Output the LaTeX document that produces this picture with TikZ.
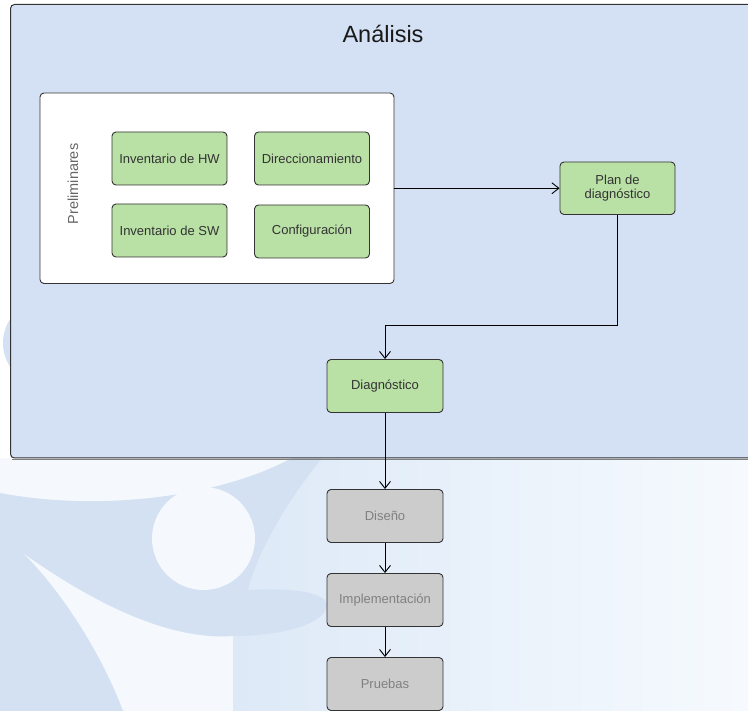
\documentclass[tikz,border=0pt]{standalone}
\usepackage{fontspec}
\setmainfont{Liberation Sans}
\usetikzlibrary{arrows.meta}
\definecolor{bgblue}{HTML}{D4E1F4}
\definecolor{wmblue}{HTML}{D3E1F2}
\definecolor{wmwhite}{HTML}{F5F8FC}
\definecolor{paleL}{HTML}{DDE9F7}
\definecolor{paleR}{HTML}{F6FAFE}
\definecolor{boxgreen}{HTML}{B9E0A5}
\definecolor{boxgray}{HTML}{CCCCCC}
\definecolor{edge}{HTML}{333333}
\begin{document}
\begin{tikzpicture}[x=1pt,y=-1pt,
  lbl/.style={font=\fontsize{13}{15.5}\selectfont},
  gbox/.style={lbl, draw=edge, fill=boxgreen, rounded corners=4pt, line width=0.9pt,
    minimum width=115pt, minimum height=53pt, inner sep=0pt, text=black!80, align=center},
  graybox/.style={gbox, fill=boxgray, text=black!50},
  arr/.style={draw=black, line width=0.9pt, -{Straight Barb[length=7pt,width=11pt]}}]
\useasboundingbox (0,0) rectangle (748,711);
\clip (0,0) rectangle (748,711);
% background / watermark
\fill[white] (0,0) rectangle (748,711);
\fill[wmwhite] (0,458) rectangle (748,711);
\shade[left color=paleL, right color=paleR] (300,458) -- (748,458) -- (748,711) -- (233,711) -- (233,600) -- cycle;
\fill[wmblue] (90,343) ellipse [x radius=87pt, y radius=60pt];
\fill[wmblue] (0,493) .. controls (100,512) and (220,497) .. (292,458) -- (322,458)
  .. controls (280,510) and (255,560) .. (248,590)
  .. controls (280,588) and (330,590) .. (327,607)
  .. controls (322,625) and (280,636) .. (233,636)
  .. controls (180,640) and (110,615) .. (23,553)
  .. controls (60,590) and (100,650) .. (123,711) -- (0,711) -- cycle;
\fill[wmwhite] (203.5,538.5) circle (51.5pt);
% outer container
\draw[gray, line width=1.2pt] (12,459.6) -- (760,459.6);
\draw[draw=edge, fill=bgblue, line width=1pt, rounded corners=4pt] (10.5,4.5) rectangle (770,458);
\node[font=\fontsize{23.5}{28}\selectfont, text=black!90] (title) at (383,34) {Análisis};
% preliminares
\node[draw=edge, fill=white, rounded corners=4pt, line width=0.9pt, minimum width=354pt,
  minimum height=190.5pt, inner sep=0pt] (prelim) at (217,188.25) {};
\node[lbl, rotate=90, text=black!60, font=\fontsize{14.5}{17}\selectfont] (prelimlbl) at (73,184) {Preliminares};
\node[gbox] (hw) at (169.5,158.5) {Inventario de HW};
\node[gbox] (dir) at (312,158.5) {Direccionamiento};
\node[gbox] (sw) at (169.5,230.5) {Inventario de SW};
\node[gbox] (conf) at (312,231.5) {Configuración};
\node[gbox, minimum height=52.5pt] (plan) at (617.5,188.25) {Plan de\\[-1pt]diagnóstico};
\node[gbox, minimum width=116pt] (diag) at (385,386) {Diagnóstico};
\node[graybox, minimum width=116pt] (dis) at (385,516) {Diseño};
\node[graybox, minimum width=116pt] (imp) at (385,600) {Implementación};
\node[graybox, minimum width=116pt] (pru) at (385,684) {Pruebas};
\coordinate (bend) at (385,325);
\draw[arr] (prelim.east) -- (plan.west);
\draw[arr] (plan.south) |- (bend) -- (diag.north);
\draw[arr] (diag.south) -- (dis.north);
\draw[arr] (dis.south) -- (imp.north);
\draw[arr] (imp.south) -- (pru.north);
\end{tikzpicture}
\end{document}
